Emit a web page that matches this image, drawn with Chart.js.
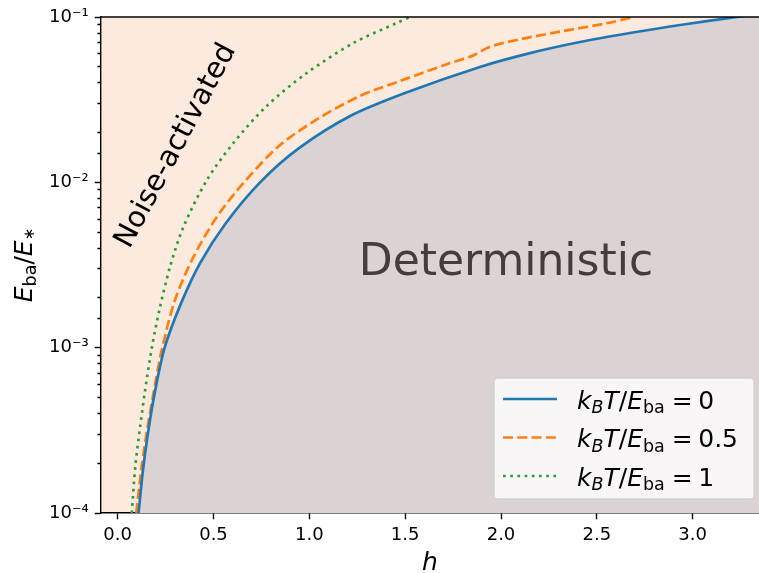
<!DOCTYPE html>
<html>
<head>
<meta charset="utf-8">
<script src="https://cdn.jsdelivr.net/npm/chart.js@4.4.1/dist/chart.umd.min.js"></script>
<style>
  html, body { margin: 0; padding: 0; background: #fff; }
  #wrap { width: 759px; height: 573px; }
</style>
</head>
<body>
<div id="wrap"><canvas id="phase" width="759" height="573"></canvas></div>
<script>
// boundary E_ba/E_* (h) between the two regimes, one curve per k_B T / E_ba
const hT0 = [0.109, 0.130, 0.158, 0.193, 0.245, 0.331, 0.430, 0.565, 0.743, 0.946, 1.213, 1.499, 1.890, 2.151, 2.412, 2.673, 2.934, 3.231, 3.45];
const eT0 = [1e-4, 1.74e-4, 3.04e-4, 5.31e-4, 1.0e-3, 1.86e-3, 3.25e-3, 5.68e-3, 1.0e-2, 1.61e-2, 2.52e-2, 3.47e-2, 4.99e-2, 6.05e-2, 7.06e-2, 8.0e-2, 8.95e-2, 1.0e-1, 1.087e-1];

const hT05 = [0.097, 0.125, 0.156, 0.187, 0.230, 0.299, 0.395, 0.517, 0.659, 0.842, 1.039, 1.264, 1.473, 1.717, 1.856, 1.943, 2.099, 2.325, 2.551, 2.689];
const eT05 = [1e-4, 1.90e-4, 3.31e-4, 5.31e-4, 9.66e-4, 1.94e-3, 3.53e-3, 6.17e-3, 1.0e-2, 1.66e-2, 2.40e-2, 3.33e-2, 4.10e-2, 5.18e-2, 5.86e-2, 6.61e-2, 7.33e-2, 8.23e-2, 9.16e-2, 1.0e-1];

const hT1 = [0.0736, 0.0918, 0.117, 0.141, 0.178, 0.221, 0.273, 0.343, 0.465, 0.604, 0.778, 0.986, 1.230, 1.456, 1.524];
const eT1 = [1e-4, 1.90e-4, 3.31e-4, 5.31e-4, 9.95e-4, 1.76e-3, 3.08e-3, 5.37e-3, 1.03e-2, 1.73e-2, 2.90e-2, 4.58e-2, 6.96e-2, 9.2e-2, 1.0e-1];

const tempLabels = ['0', '0.5', '1'];
const yMajor = [1e-4, 1e-3, 1e-2, 1e-1];
const yMajorLabels = ['10\u207B\u2074', '10\u207B\u00B3', '10\u207B\u00B2', '10\u207B\u00B9'];
const xRange = [-0.087, 3.346];

const FONT = '"DejaVu Sans", sans-serif';
const PEACH = '#fdeade';
const GREY = '#dbd3d3';

const pts = (hs, es) => hs.map((h, i) => ({ x: h, y: es[i] }));
const isMajor = (v) => Math.abs(Math.log10(v) - Math.round(Math.log10(v))) < 1e-6;

// draws a run of mathtext-like pieces (italic / subscript) starting at x, returns width
function mathRun(ctx, x, y, parts, size, measureOnly) {
    let cx = x;
    for (const p of parts) {
        const fs = p.sub ? size * (p.small || 0.7) : size;
        ctx.font = `${p.it ? 'italic ' : ''}${fs}px ${FONT}`;
        cx += (p.padL || 0) * size;
        if (!measureOnly) ctx.fillText(p.t, cx, y + (p.sub ? size * (p.drop || 0.18) : 0));
        cx += ctx.measureText(p.t).width + (p.padR || 0) * size;
    }
    return cx - x;
}

const tempParts = (v) => [
    { t: 'k', it: 1 }, { t: 'B', it: 1, sub: 1 }, { t: 'T', it: 1 }, { t: '/' },
    { t: 'E', it: 1 }, { t: 'ba', sub: 1 }, { t: '=', padL: 0.28, padR: 0.22 }, { t: v }
];
const yTitleParts = [
    { t: 'E', it: 1 }, { t: 'ba', sub: 1 }, { t: '/' }, { t: 'E', it: 1 },
    { t: '\u2217', sub: 1, small: 0.6, drop: 0.1 }
];

const decor = {
    id: 'decor',
    beforeDraw(chart) {
        const { ctx, chartArea: a } = chart;
        ctx.save();
        ctx.fillStyle = PEACH;
        ctx.fillRect(a.left, a.top, a.right - a.left, a.bottom - a.top);
        ctx.restore();
    },
    afterDraw(chart) {
        const { ctx, chartArea: a } = chart;
        ctx.save();

        // top spine
        ctx.strokeStyle = '#000';
        ctx.lineWidth = 1.4;
        ctx.beginPath();
        ctx.moveTo(a.left, a.top);
        ctx.lineTo(a.right, a.top);
        ctx.stroke();

        // region names
        ctx.fillStyle = '#463c3c';
        ctx.font = `44px ${FONT}`;
        ctx.textAlign = 'center';
        ctx.textBaseline = 'alphabetic';
        ctx.fillText('Deterministic', 506, 275);

        ctx.save();
        ctx.fillStyle = '#000';
        ctx.font = `29px ${FONT}`;
        ctx.textBaseline = 'middle';
        ctx.translate(176, 146);
        ctx.rotate(-62 * Math.PI / 180);
        ctx.fillText('Noise-activated', 0, 0);
        ctx.restore();

        // y axis title
        ctx.save();
        ctx.fillStyle = '#000';
        ctx.textAlign = 'left';
        ctx.translate(31.5, a.top + (a.bottom - a.top) / 2);
        ctx.rotate(-Math.PI / 2);
        const w = mathRun(ctx, 0, 0, yTitleParts, 25, true);
        mathRun(ctx, -w / 2, 0, yTitleParts, 25);
        ctx.restore();

        // legend
        const box = { x: 494, y: 378, w: 260, h: 121 };
        ctx.fillStyle = 'rgba(255,255,255,0.8)';
        ctx.strokeStyle = 'rgba(204,204,204,0.8)';
        ctx.lineWidth = 1.4;
        ctx.beginPath();
        ctx.roundRect(box.x, box.y, box.w, box.h, 4);
        ctx.fill();
        ctx.stroke();

        chart.data.datasets.forEach((ds, i) => {
            const ry = 399 + i * 38.5;
            ctx.strokeStyle = ds.borderColor;
            ctx.lineWidth = ds.borderWidth;
            ctx.setLineDash(ds.borderDash || []);
            ctx.beginPath();
            ctx.moveTo(503, ry);
            ctx.lineTo(557, ry);
            ctx.stroke();
            ctx.setLineDash([]);
            ctx.fillStyle = '#000';
            ctx.textAlign = 'left';
            ctx.textBaseline = 'alphabetic';
            mathRun(ctx, 577, ry + 9.5, tempParts(tempLabels[i]), 25);
        });
        ctx.restore();
    }
};

const lineBase = {
    pointRadius: 0,
    borderWidth: 2.7,
    tension: 0.3,
    fill: false
};

new Chart(document.getElementById('phase'), {
    type: 'line',
    data: {
        datasets: [
            { ...lineBase, data: pts(hT0, eT0), borderColor: '#1f77b4', fill: 'start', backgroundColor: GREY },
            { ...lineBase, data: pts(hT05, eT05), borderColor: '#ff7f0e', borderDash: [10, 4.3] },
            { ...lineBase, data: pts(hT1, eT1), borderColor: '#2ca02c', borderDash: [2.7, 4.5] }
        ]
    },
    options: {
        responsive: false,
        animation: false,
        layout: { padding: { top: 17, right: 0, bottom: 0, left: 0 } },
        plugins: {
            legend: { display: false },
            tooltip: { enabled: false },
            filler: { drawTime: 'beforeDatasetsDraw' }
        },
        scales: {
            x: {
                type: 'linear',
                min: xRange[0],
                max: xRange[1],
                z: 1,
                border: { color: '#000', width: 1.4 },
                grid: { drawOnChartArea: false, tickLength: 6.3, tickColor: '#000', tickWidth: 1.4 },
                ticks: {
                    stepSize: 0.5,
                    includeBounds: false,
                    padding: 5,
                    color: '#000',
                    font: { family: FONT, size: 18 },
                    callback: (v) => v.toFixed(1)
                },
                title: {
                    display: true,
                    text: 'h',
                    color: '#000',
                    font: { family: FONT, size: 25, style: 'italic', lineHeight: 1 },
                    padding: { top: 0, bottom: -3 }
                },
                afterFit: (s) => { s.height = 60; }
            },
            y: {
                type: 'logarithmic',
                min: yMajor[0],
                max: yMajor[yMajor.length - 1],
                z: 1,
                border: { color: '#000', width: 1.4 },
                grid: {
                    drawOnChartArea: false,
                    tickLength: 6.3,
                    tickColor: '#000',
                    tickWidth: 1.4,
                    // minor ticks: only the inner 3.6px of the tick is inked
                    tickBorderDash: (c) => (c.tick && isMajor(c.tick.value)) ? [] : [0, 2.7, 3.6, 20]
                },
                ticks: {
                    autoSkip: false,
                    padding: 6,
                    color: '#000',
                    font: { family: FONT, size: 18 },
                    callback: (v) => {
                        const k = yMajor.findIndex((m) => Math.abs(m - v) / m < 1e-6);
                        return k >= 0 ? yMajorLabels[k] : '';
                    }
                },
                afterFit: (s) => { s.width = 101; }
            }
        }
    },
    plugins: [decor]
});
</script>
</body>
</html>
